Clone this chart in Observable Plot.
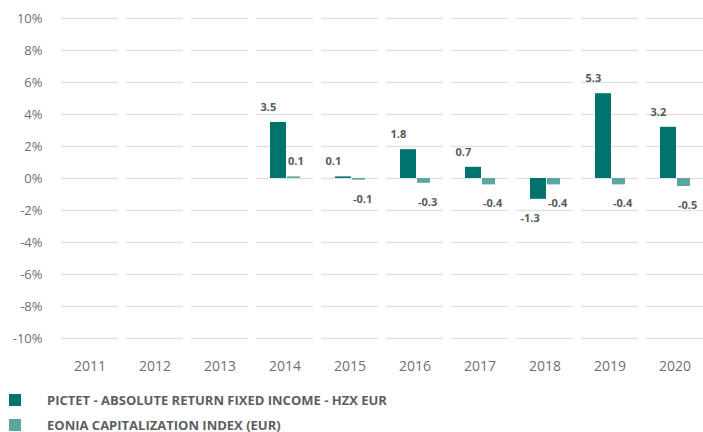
<!DOCTYPE html>
<html>
<head>
<meta charset="utf-8">
<script src="https://cdn.jsdelivr.net/npm/d3@7"></script>
<script src="https://cdn.jsdelivr.net/npm/@observablehq/plot@0.6"></script>
<style>
  html, body { margin: 0; padding: 0; background: #fff; overflow: hidden; }
  #chart { width: 711px; }
  #chart svg { display: block; max-width: none !important; }
  #chart g[aria-label^="x-axis"] { font-size: 14px; }
  .legend { margin-top: 3px; font-family: "Open Sans", sans-serif; font-weight: 700; font-size: 13px; color: #5b5f60; }
  .row { display: flex; align-items: center; height: 25px; }
  .sw { width: 12px; height: 12px; margin-left: 9px; margin-right: 26px; }
</style>
</head>
<body>
<div id="chart"></div>
<div class="legend">
  <div class="row"><div class="sw" style="background:#00736f"></div><span>PICTET - ABSOLUTE RETURN FIXED INCOME - HZX EUR</span></div>
  <div class="row"><div class="sw" style="background:#5ba6a3"></div><span>EONIA CAPITALIZATION INDEX (EUR)</span></div>
</div>
<script>
const years = ["2011","2012","2013","2014","2015","2016","2017","2018","2019","2020"];
const seriesNames = ["PICTET - ABSOLUTE RETURN FIXED INCOME - HZX EUR", "EONIA CAPITALIZATION INDEX (EUR)"];
const pictet = [null, null, null, 3.5, 0.1, 1.8, 0.7, -1.3, 5.3, 3.2];
const eonia  = [null, null, null, 0.1, -0.1, -0.3, -0.4, -0.4, -0.4, -0.5];
const yTicks = [-10, -8, -6, -4, -2, 0, 2, 4, 6, 8, 10];
const colors = ["#00736f", "#5ba6a3"];

const fund = [], bench = [];
years.forEach((y, i) => {
  if (pictet[i] != null) fund.push({year: y, value: pictet[i]});
  if (eonia[i] != null) bench.push({year: y, value: eonia[i]});
});
const grid = [];
years.forEach(y => yTicks.forEach(t => grid.push({year: y, tick: t})));

const fmt = d => d.value.toFixed(1);
const labelFont = {fontFamily: "Open Sans, sans-serif", fontWeight: 700, fontSize: 11, fill: "#555a5b"};

const chart = Plot.plot({
  width: 711,
  height: 384,
  marginLeft: 53,
  marginRight: 0,
  marginTop: 18,
  marginBottom: 46,
  style: {fontFamily: "Open Sans, sans-serif", fontSize: "13px", color: "#6b7172", background: "#fff", overflow: "visible"},
  x: {domain: years, padding: 0, tickSize: 0, tickPadding: 23, label: null},
  y: {domain: [-10, 10], ticks: yTicks, tickFormat: d => d + "%", tickSize: 0, tickPadding: 11, label: null},
  marks: [
    Plot.tickY(grid, {x: "year", y: "tick", stroke: "#e2e2e2", strokeWidth: 1.5, insetLeft: 4, insetRight: 4}),
    Plot.barY(fund, {x: "year", y: "value", fill: colors[0], insetLeft: 18, insetRight: 31}),
    Plot.barY(bench, {x: "year", y: "value", fill: colors[1], insetLeft: 35, insetRight: 17}),
    Plot.text(fund.filter(d => d.value >= 0), {x: "year", y: "value", text: fmt, textAnchor: "start", dx: -24.5, dy: -15, ...labelFont}),
    Plot.text(fund.filter(d => d.value < 0), {x: "year", y: "value", text: fmt, textAnchor: "start", dx: -24.5, dy: 19, ...labelFont}),
    Plot.text(bench.filter(d => d.value >= 0), {x: "year", y: "value", text: fmt, textAnchor: "start", dx: 3, dy: -15, ...labelFont}),
    Plot.text(bench.filter(d => d.value < 0), {x: "year", y: "value", text: fmt, textAnchor: "start", dx: 3, dy: 19, ...labelFont})
  ]
});
document.getElementById("chart").append(chart);
</script>
</body>
</html>
